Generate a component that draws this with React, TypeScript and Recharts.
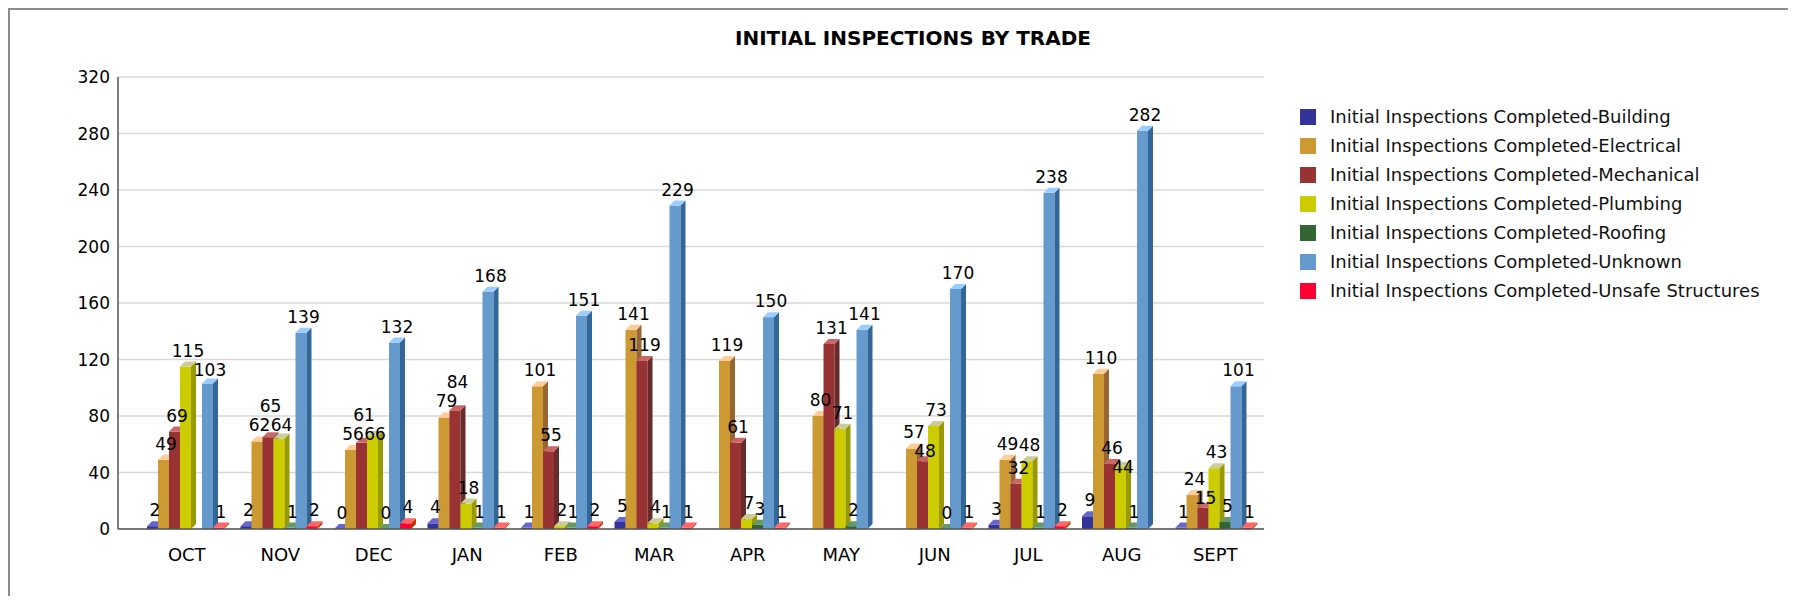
import React from "react";
import { BarChart, Bar, XAxis, YAxis, CartesianGrid, Legend, LabelList } from "recharts";

const months = ["OCT", "NOV", "DEC", "JAN", "FEB", "MAR", "APR", "MAY", "JUN", "JUL", "AUG", "SEPT"];

const building = [2, 2, 0, 4, 1, 5, null, null, null, 3, 9, 1];
const electrical = [49, 62, 56, 79, 101, 141, 119, 80, 57, 49, 110, 24];
const mechanical = [69, 65, 61, 84, 55, 119, 61, 131, 48, 32, 46, 15];
const plumbing = [115, 64, 66, 18, 2, 4, 7, 71, 73, 48, 44, 43];
const roofing = [null, 1, 0, 1, 1, 1, 3, 2, 0, 1, 1, 5];
const unknown = [103, 139, 132, 168, 151, 229, 150, 141, 170, 238, 282, 101];
const unsafe = [1, 2, 4, 1, 2, 1, 1, null, 1, 2, null, 1];

const yTicks = [0, 40, 80, 120, 160, 200, 240, 280, 320];

const FONT = '"DejaVu Sans", sans-serif';
const DEPTH = 5;
const PLOT_H = 452;
const Y_MAX = 320;
const PITCH = 11.36;
const LABEL_SIZE = 17;

const series = [
  { key: "building", name: "Initial Inspections Completed-Building", values: building, front: "#333399", top: "#6666cc", side: "#22226e" },
  { key: "electrical", name: "Initial Inspections Completed-Electrical", values: electrical, front: "#cc9933", top: "#ffcc99", side: "#996633" },
  { key: "mechanical", name: "Initial Inspections Completed-Mechanical", values: mechanical, front: "#993333", top: "#cc6666", side: "#662b2b" },
  { key: "plumbing", name: "Initial Inspections Completed-Plumbing", values: plumbing, front: "#cccc00", top: "#cccc99", side: "#999900" },
  { key: "roofing", name: "Initial Inspections Completed-Roofing", values: roofing, front: "#336633", top: "#669966", side: "#234623" },
  { key: "unknown", name: "Initial Inspections Completed-Unknown", values: unknown, front: "#6699cc", top: "#99ccff", side: "#336699" },
  { key: "unsafe", name: "Initial Inspections Completed-Unsafe Structures", values: unsafe, front: "#ff0033", top: "#ff6666", side: "#cc3300" },
];

const data = months.map((m, i) => {
  const row: Record<string, any> = { month: m };
  series.forEach((s) => {
    row[s.key] = s.values[i];
  });
  return row;
});

// nudge value labels up/down when they would collide with the neighbour's label
const labelShift: number[][] = series.map(() => months.map(() => 0));
months.forEach((_, i) => {
  let prev: any = null;
  series.forEach((s, k) => {
    const v = s.values[i];
    if (v == null) return;
    const w = String(v).length * LABEL_SIZE * 0.636;
    const yDef = (-v * PLOT_H) / Y_MAX;
    let F = yDef;
    let raised = false;
    if (prev) {
      const dx = (k - prev.k) * PITCH;
      if ((w + prev.w) / 2 > dx && Math.abs(yDef - prev.F) < 17) {
        if (prev.raised) F = prev.F + 19;
        else if (v >= prev.v) {
          F = prev.F - 19;
          raised = true;
        } else F = prev.F + 19;
      }
    }
    labelShift[k][i] = F - yDef;
    prev = { k, F, raised, v, w };
  });
});

function bar3D(key: string, front: string, top: string, side: string) {
  return (props: any) => {
    const { x, y, width: w, height: h, payload } = props;
    if (payload == null || payload[key] == null) return <g />;
    const d = DEPTH;
    return (
      <g>
        <rect x={x} y={y} width={w} height={Math.max(h, 0)} fill={front} />
        <polygon points={`${x + w},${y} ${x + w + d},${y - d} ${x + w + d},${y + h - d} ${x + w},${y + h}`} fill={side} />
        <polygon points={`${x},${y} ${x + d},${y - d} ${x + w + d},${y - d} ${x + w},${y}`} fill={top} />
      </g>
    );
  };
}

function makeLabel(k: number) {
  return (props: any) => {
    const { value, index } = props;
    if (value == null) return null;
    const vb = props.viewBox || props;
    const x = vb.x;
    const y = vb.y;
    const w = vb.width;
    const shift = labelShift[k][index] || 0;
    return (
      <text
        x={x + w / 2 + DEPTH / 2}
        y={y - DEPTH - 5 + shift}
        textAnchor="middle"
        fontSize={LABEL_SIZE}
        fill="#000"
        fontFamily={FONT}
      >
        {value}
      </text>
    );
  };
}

function LegendBox() {
  return (
    <div style={{ fontFamily: FONT, fontSize: 18, color: "#111" }}>
      {series.map((s) => (
        <div key={s.key} style={{ display: "flex", alignItems: "center", height: 29 }}>
          <span style={{ width: 16, height: 16, background: s.front, display: "inline-block", flexShrink: 0 }} />
          <span style={{ marginLeft: 14, whiteSpace: "nowrap" }}>{s.name}</span>
        </div>
      ))}
    </div>
  );
}

export default function App() {
  return (
    <div
      style={{
        position: "relative",
        width: 1778,
        height: 586,
        borderLeft: "2px solid #8c8c8c",
        borderTop: "2px solid #8c8c8c",
        overflow: "hidden",
        background: "#fff",
      }}
    >
      <div
        style={{
          position: "absolute",
          left: 603,
          top: 15,
          width: 600,
          textAlign: "center",
          fontFamily: FONT,
          fontSize: 20,
          fontWeight: "bold",
          lineHeight: "26px",
          color: "#000",
          zIndex: 2,
        }}
      >
        INITIAL INSPECTIONS BY TRADE
      </div>
      <BarChart
        width={1770}
        height={586}
        data={data}
        margin={{ top: 67, right: 516, bottom: 27, left: 48 }}
        barCategoryGap={7}
        barGap={0}
      >
        <CartesianGrid vertical={false} stroke="#d9d9d9" strokeWidth={1.5} />
        <XAxis
          dataKey="month"
          padding={{ left: 22, right: 2 }}
          tickLine={false}
          tickSize={0}
          tickMargin={19}
          height={40}
          axisLine={{ stroke: "#555", strokeWidth: 1.5 }}
          tick={{ fontSize: 18, fill: "#000", fontFamily: FONT }}
        />
        <YAxis
          domain={[0, Y_MAX]}
          ticks={yTicks}
          width={60}
          tickLine={false}
          tickSize={0}
          tickMargin={8}
          axisLine={{ stroke: "#555", strokeWidth: 1.5 }}
          tick={{ fontSize: 17, fill: "#000", fontFamily: FONT }}
        />
        <Legend
          layout="vertical"
          align="center"
          verticalAlign="middle"
          content={() => <LegendBox />}
          wrapperStyle={{ position: "absolute", left: 1290, top: 92, width: 480 }}
        />
        {series.map((s, k) => (
          <Bar
            key={s.key}
            dataKey={s.key}
            name={s.name}
            fill={s.front}
            isAnimationActive={false}
            shape={bar3D(s.key, s.front, s.top, s.side)}
          >
            <LabelList dataKey={s.key} content={makeLabel(k)} />
          </Bar>
        ))}
      </BarChart>
    </div>
  );
}
